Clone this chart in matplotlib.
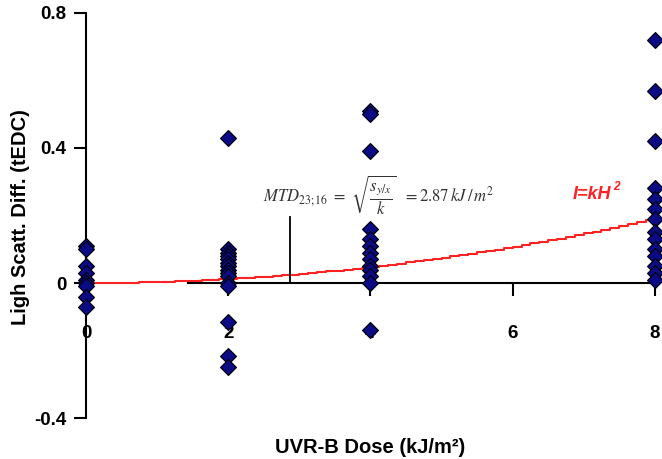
import numpy as np
import matplotlib
matplotlib.use('Agg')
import matplotlib.pyplot as plt

plt.rcParams['font.family'] = ['Liberation Sans', 'DejaVu Sans']
plt.rcParams['mathtext.fontset'] = 'stix'

# data
dose_0 = [0.11, 0.10, 0.05, 0.03, 0.01, 0.0, -0.01, -0.04, -0.07]
dose_2 = [0.43, 0.10, 0.09, 0.08, 0.07, 0.06, 0.05, 0.04, 0.03, 0.02, 0.0, -0.01, -0.115, -0.215, -0.25]
dose_4 = [0.51, 0.50, 0.39, 0.16, 0.13, 0.11, 0.09, 0.07, 0.05, 0.04, 0.02, 0.0, -0.14]
dose_8 = [0.72, 0.57, 0.42, 0.28, 0.25, 0.22, 0.19, 0.15, 0.13, 0.10, 0.08, 0.05, 0.03, 0.01]
doses = [0, 2, 4, 8]
k = 0.003      # fit I = k*H^2
mtd = 2.87     # kJ/m2

xticks = [0, 2, 4, 6, 8]
yticks = [-0.4, 0, 0.4, 0.8]
ytick_labels = ['-0.4', '0', '0.4', '0.8']

fig = plt.figure(figsize=(6.62, 4.59), dpi=100)
ax = fig.add_axes([0.1299, 0.0893, 0.870, 0.8824])

# stepped fit line
h = np.arange(0, 8.001, 0.125)
ax.plot(h, k * h**2, color='#ff2222', lw=1.5, drawstyle='steps-post', zorder=2)

for d, vals in zip(doses, [dose_0, dose_2, dose_4, dose_8]):
    ax.plot([d] * len(vals), vals, linestyle='none', marker='D', ms=8.5,
            markerfacecolor='#0b0b86', markeredgecolor='black', markeredgewidth=0.8,
            clip_on=False, zorder=4)

# MTD marker
ax.plot([mtd, mtd], [0, 0.195], color='black', lw=1.3, zorder=3)

ax.text(2.49, 0.262,
        r'$MTD_{23;16}\ =\ \sqrt{\dfrac{s_{y/x}}{k}}\ \ =2.87\,kJ\,/\,m^{2}$',
        fontsize=12, color='#333333', va='center', ha='left')
fit_txt = ax.text(6.85, 0.262, 'I=kH', fontsize=13, fontweight='bold', style='italic',
                  color='#ff2222', va='center', ha='left')
ax.annotate('2', xy=(1, 0.62), xycoords=fit_txt, xytext=(1, 0), textcoords='offset points',
            fontsize=8.5, fontweight='bold', style='italic', color='#ff2222',
            va='bottom', ha='left')

ax.set_xlim(0, 8.1)
ax.set_ylim(-0.4, 0.8)

ax.spines['top'].set_visible(False)
ax.spines['right'].set_visible(False)
ax.spines['bottom'].set_position(('data', 0))
ax.spines['bottom'].set_bounds(1.43, 8)
ax.spines['left'].set_linewidth(1.5)
ax.spines['bottom'].set_linewidth(1.5)

ax.set_xticks(xticks)
ax.set_yticks(yticks)
ax.set_yticklabels(ytick_labels)
ax.tick_params(axis='x', direction='out', length=9, width=1.5, pad=21,
               labelsize=13.5)
ax.tick_params(axis='y', direction='out', length=9, width=1.5, pad=5,
               labelsize=13.5)
for lab in ax.get_xticklabels() + ax.get_yticklabels():
    lab.set_fontweight('bold')

fig.text(0.031, 0.527, 'Ligh Scatt. Diff. (tEDC)', rotation=90, fontsize=14.5,
         fontweight='bold', ha='center', va='center')
fig.text(0.559, 0.026, 'UVR-B Dose (kJ/m²)', fontsize=14.5, fontweight='bold',
         ha='center', va='center')

fig.savefig('out.png', dpi=100)
